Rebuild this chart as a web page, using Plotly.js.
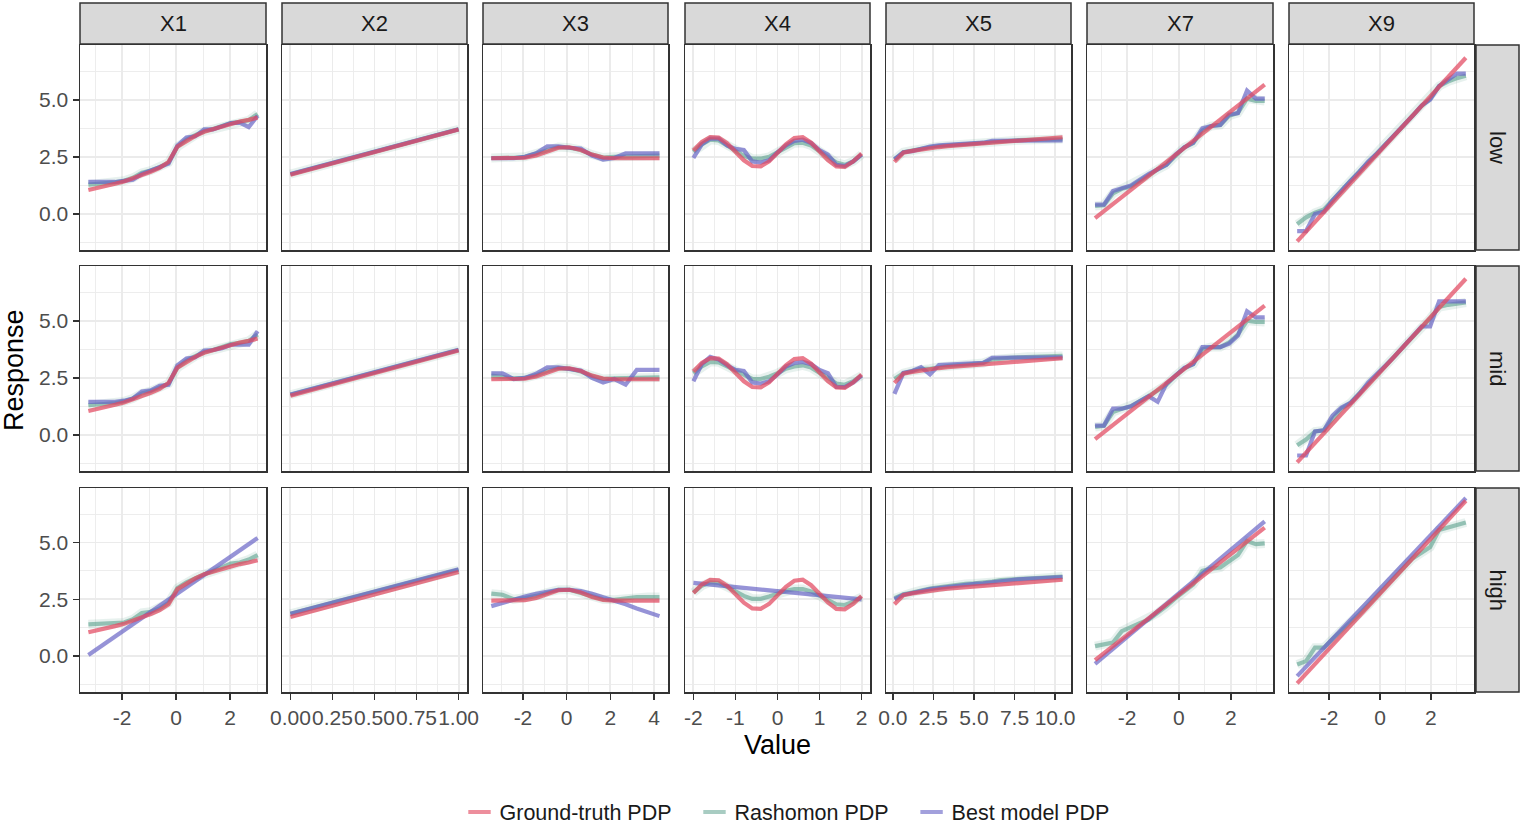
<!DOCTYPE html>
<html><head><meta charset="utf-8">
<script src="https://cdn.plot.ly/plotly-3.0.1.min.js"></script>
<style>html,body{margin:0;padding:0;background:#fff;overflow:hidden;width:100%;height:100%}#chart{position:fixed;left:0;top:0;width:100vw;height:100vh}</style>
</head><body><div id="chart"></div>
<script>
// ---------- categories ----------
const variables = ['X1','X2','X3','X4','X5','X7','X9'];
const levels = ['low','mid','high'];
const seriesNames = ['Ground-truth PDP','Rashomon PDP','Best model PDP'];

// ---------- tick labels ----------
const yTickVals = [0, 2.5, 5];
const yTickText = ['0.0','2.5','5.0'];
const xTickVals = [[-2,0,2],[0,0.25,0.5,0.75,1],[-2,0,2,4],[-2,-1,0,1,2],[0,2.5,5,7.5,10],[-2,0,2],[-2,0,2]];
const xTickText = [['-2','0','2'],['0.00','0.25','0.50','0.75','1.00'],['-2','0','2','4'],['-2','-1','0','1','2'],['0.0','2.5','5.0','7.5','10.0'],['-2','0','2'],['-2','0','2']];

// ---------- X1 ----------
const x1Grid = [-3.25,-2.92,-2.59,-2.26,-1.93,-1.6,-1.27,-0.94,-0.61,-0.28,0.05,0.38,0.71,1.04,1.37,1.7,2.03,2.36,2.69,3.02];
const x1Truth = [1.05,1.13,1.22,1.32,1.42,1.55,1.7,1.85,2.02,2.28,2.95,3.2,3.42,3.6,3.72,3.85,3.97,4.05,4.12,4.22];
const x1RashLow = [1.28,1.3,1.33,1.38,1.45,1.58,1.8,1.9,2.05,2.25,2.95,3.25,3.45,3.62,3.72,3.86,3.98,4.03,4.1,4.38];
const x1RashMid = [1.3,1.32,1.35,1.4,1.47,1.6,1.82,1.92,2.08,2.25,2.95,3.25,3.45,3.62,3.72,3.86,3.98,4.03,4.12,4.4];
const x1RashHigh = [1.4,1.42,1.4,1.42,1.48,1.62,1.9,1.95,2.1,2.35,3.0,3.25,3.45,3.6,3.75,3.9,4.07,4.12,4.25,4.45];
const x1BestLow = [1.4,1.4,1.4,1.4,1.45,1.5,1.75,1.9,2.05,2.2,3.0,3.35,3.4,3.7,3.7,3.85,3.98,4.0,3.8,4.3];
const x1BestMid = [1.45,1.45,1.45,1.45,1.5,1.6,1.9,1.95,2.15,2.2,3.05,3.35,3.4,3.7,3.72,3.8,3.95,3.95,3.95,4.55];
const x1BestHighGrid = [-3.25,3.02];
const x1BestHigh = [0.05,5.2];

// ---------- X2 ----------
const x2Grid = [0,1];
const x2Truth = [1.72,3.7];
const x2RashLow = [1.74,3.71];
const x2RashMid = [1.76,3.72];
const x2RashHigh = [1.86,3.8];
const x2BestLow = [1.75,3.71];
const x2BestMid = [1.77,3.73];
const x2BestHigh = [1.86,3.82];

// ---------- X3 ----------
const x3Grid = [-3.45,-2.94,-2.43,-1.91,-1.4,-0.89,-0.38,0.13,0.65,1.16,1.67,2.18,2.7,3.21,3.72,4.25];
const x3Truth = [2.44,2.44,2.44,2.46,2.56,2.74,2.9,2.92,2.8,2.6,2.47,2.44,2.44,2.44,2.44,2.44];
const x3RashLow = [2.45,2.45,2.46,2.5,2.64,2.82,2.93,2.9,2.8,2.6,2.47,2.5,2.52,2.54,2.55,2.55];
const x3RashMid = [2.6,2.55,2.48,2.5,2.62,2.8,2.93,2.9,2.78,2.58,2.45,2.48,2.5,2.52,2.52,2.52];
const x3RashHigh = [2.75,2.7,2.5,2.55,2.65,2.8,2.92,2.92,2.78,2.6,2.5,2.48,2.55,2.6,2.6,2.6];
const x3BestLow = [2.44,2.44,2.44,2.5,2.66,2.96,2.96,2.9,2.86,2.55,2.38,2.45,2.65,2.65,2.65,2.65];
const x3BestMid = [2.7,2.7,2.45,2.5,2.68,2.96,2.96,2.9,2.82,2.5,2.3,2.45,2.2,2.85,2.85,2.85];
const x3BestHigh = [2.2,2.35,2.5,2.62,2.74,2.85,2.92,2.92,2.86,2.74,2.6,2.45,2.28,2.1,1.92,1.76];

// ---------- X4 ----------
const x4Grid = [-2,-1.8,-1.6,-1.4,-1.2,-1,-0.8,-0.6,-0.4,-0.2,0,0.2,0.4,0.6,0.8,1,1.2,1.4,1.6,1.8,2];
const x4Truth = [2.78,3.15,3.36,3.34,3.1,2.72,2.35,2.1,2.08,2.3,2.66,3.05,3.32,3.36,3.12,2.74,2.36,2.08,2.06,2.3,2.65];
const x4RashLow = [2.72,3.05,3.25,3.22,3.0,2.8,2.55,2.42,2.42,2.5,2.7,2.95,3.1,3.12,3.0,2.75,2.5,2.25,2.15,2.3,2.6];
const x4RashMid = [2.7,3.0,3.2,3.18,3.0,2.8,2.6,2.45,2.45,2.55,2.7,2.9,3.0,3.05,2.95,2.75,2.5,2.25,2.2,2.35,2.6];
const x4RashHigh = [2.8,3.1,3.25,3.22,3.05,2.85,2.65,2.52,2.52,2.62,2.75,2.88,2.95,2.95,2.85,2.65,2.45,2.28,2.25,2.4,2.6];
const x4BestLow = [2.45,3.05,3.3,3.3,3.0,2.85,2.8,2.3,2.25,2.35,2.7,3.0,3.2,3.25,3.1,2.8,2.6,2.15,2.1,2.3,2.6];
const x4BestMid = [2.35,3.1,3.42,3.3,3.05,2.85,2.8,2.3,2.25,2.35,2.65,3.0,3.15,3.2,3.1,2.85,2.7,2.1,2.1,2.3,2.6];
const x4BestHighGrid = [-2,2];
const x4BestHigh = [3.22,2.5];

// ---------- X5 ----------
const x5Grid = [0.1,0.65,1.2,1.74,2.29,2.84,3.38,3.93,4.48,5.03,5.57,6.12,6.67,7.21,7.76,8.31,8.86,9.4,9.95,10.46];
const x5Truth = [2.28,2.68,2.76,2.83,2.88,2.93,2.97,3.0,3.04,3.07,3.1,3.13,3.16,3.19,3.22,3.25,3.28,3.31,3.33,3.36];
const x5RashLow = [2.38,2.7,2.78,2.86,2.92,2.97,3.0,3.04,3.07,3.1,3.14,3.18,3.2,3.22,3.23,3.24,3.25,3.26,3.27,3.28];
const x5RashMid = [2.45,2.7,2.8,2.9,2.9,2.98,3.02,3.05,3.08,3.1,3.15,3.3,3.35,3.38,3.4,3.42,3.43,3.44,3.45,3.46];
const x5RashHigh = [2.55,2.72,2.8,2.9,2.97,3.03,3.08,3.15,3.18,3.2,3.23,3.28,3.35,3.38,3.4,3.42,3.44,3.46,3.48,3.5];
const x5BestLow = [2.4,2.7,2.75,2.85,2.95,3.0,3.02,3.05,3.08,3.1,3.12,3.2,3.2,3.22,3.22,3.22,3.22,3.22,3.22,3.22];
const x5BestMid = [1.8,2.72,2.8,2.97,2.65,3.06,3.08,3.1,3.12,3.14,3.16,3.38,3.38,3.38,3.38,3.39,3.39,3.4,3.4,3.4];
const x5BestHigh = [2.5,2.7,2.78,2.88,2.95,3.0,3.05,3.12,3.15,3.18,3.2,3.25,3.3,3.35,3.38,3.4,3.42,3.44,3.46,3.48];

// ---------- X7 ----------
const x7Grid = [-3.23,-2.89,-2.54,-2.2,-1.85,-1.51,-1.17,-0.82,-0.48,-0.13,0.21,0.55,0.9,1.24,1.59,1.93,2.27,2.62,2.96,3.3];
const x7TruthGrid = [-3.23,3.3];
const x7Truth = [-0.18,5.66];
const x7RashLow = [0.35,0.38,0.9,1.1,1.2,1.45,1.7,1.95,2.15,2.55,2.92,3.1,3.65,3.85,3.9,4.3,4.42,5.05,4.95,4.95];
const x7RashMid = [0.35,0.4,1.0,1.15,1.25,1.45,1.7,1.95,2.2,2.6,2.92,3.1,3.75,3.85,3.85,4.05,4.4,5.0,4.95,4.95];
const x7RashHigh = [0.44,0.5,0.6,1.1,1.3,1.45,1.6,1.9,2.2,2.55,2.85,3.15,3.75,3.85,3.9,4.2,4.45,5.07,4.93,4.96];
const x7BestLow = [0.41,0.41,1.0,1.1,1.25,1.5,1.75,1.95,2.15,2.6,2.92,3.12,3.75,3.85,3.9,4.35,4.42,5.4,5.05,5.05];
const x7BestMid = [0.41,0.41,1.15,1.15,1.25,1.5,1.7,1.45,2.25,2.6,2.94,3.1,3.85,3.85,3.85,4.0,4.35,5.42,5.15,5.15];
const x7BestHighGrid = [-3.23,3.3];
const x7BestHigh = [-0.34,5.93];

// ---------- X9 ----------
const x9Grid = [-3.25,-2.9,-2.55,-2.2,-1.86,-1.51,-1.16,-0.81,-0.46,-0.12,0.23,0.58,0.93,1.28,1.63,1.97,2.32,2.67,3.02,3.37];
const x9TruthGrid = [-3.25,3.37];
const x9Truth = [-1.2,6.84];
const x9RashLow = [-0.45,-0.15,0.05,0.2,0.6,1.05,1.45,1.85,2.25,2.62,3.05,3.45,3.88,4.3,4.72,5.05,5.6,5.8,5.95,6.05];
const x9RashMid = [-0.45,-0.2,0.15,0.2,0.7,1.15,1.4,1.8,2.25,2.65,3.05,3.45,3.88,4.3,4.7,5.1,5.6,5.7,5.75,5.8];
const x9RashHigh = [-0.37,-0.22,0.37,0.37,0.75,1.1,1.45,1.85,2.25,2.65,3.1,3.5,3.9,4.3,4.55,4.8,5.55,5.65,5.78,5.88];
const x9BestLow = [-0.75,-0.75,0.0,0.1,0.6,1.05,1.45,1.85,2.3,2.65,3.05,3.5,3.9,4.3,4.75,5.0,5.6,5.9,6.15,6.15];
const x9BestMid = [-0.9,-0.9,0.15,0.2,0.85,1.2,1.4,1.8,2.3,2.65,3.05,3.45,3.9,4.35,4.75,4.75,5.85,5.85,5.85,5.85];
const x9BestHighGrid = [-3.25,3.37];
const x9BestHigh = [-0.88,6.96];

// ---------- assembled table ----------
const panelData = {
  X1:{truth:[x1Grid,x1Truth], rash:[[x1Grid,x1RashLow],[x1Grid,x1RashMid],[x1Grid,x1RashHigh]], best:[[x1Grid,x1BestLow],[x1Grid,x1BestMid],[x1BestHighGrid,x1BestHigh]]},
  X2:{truth:[x2Grid,x2Truth], rash:[[x2Grid,x2RashLow],[x2Grid,x2RashMid],[x2Grid,x2RashHigh]], best:[[x2Grid,x2BestLow],[x2Grid,x2BestMid],[x2Grid,x2BestHigh]]},
  X3:{truth:[x3Grid,x3Truth], rash:[[x3Grid,x3RashLow],[x3Grid,x3RashMid],[x3Grid,x3RashHigh]], best:[[x3Grid,x3BestLow],[x3Grid,x3BestMid],[x3Grid,x3BestHigh]]},
  X4:{truth:[x4Grid,x4Truth], rash:[[x4Grid,x4RashLow],[x4Grid,x4RashMid],[x4Grid,x4RashHigh]], best:[[x4Grid,x4BestLow],[x4Grid,x4BestMid],[x4BestHighGrid,x4BestHigh]]},
  X5:{truth:[x5Grid,x5Truth], rash:[[x5Grid,x5RashLow],[x5Grid,x5RashMid],[x5Grid,x5RashHigh]], best:[[x5Grid,x5BestLow],[x5Grid,x5BestMid],[x5Grid,x5BestHigh]]},
  X7:{truth:[x7TruthGrid,x7Truth], rash:[[x7Grid,x7RashLow],[x7Grid,x7RashMid],[x7Grid,x7RashHigh]], best:[[x7Grid,x7BestLow],[x7Grid,x7BestMid],[x7BestHighGrid,x7BestHigh]]},
  X9:{truth:[x9TruthGrid,x9Truth], rash:[[x9Grid,x9RashLow],[x9Grid,x9RashMid],[x9Grid,x9RashHigh]], best:[[x9Grid,x9BestLow],[x9Grid,x9BestMid],[x9BestHighGrid,x9BestHigh]]}
};

// ---------- layout geometry (reference pixel frame 1521 x 827) ----------
const RW = 1521, RH = 827;
const W = window.innerWidth || RW, H = window.innerHeight || RH;
const colPx = [[80,266],[282,467],[483,668],[685,870],[886,1071],[1087,1273],[1289,1474]];
const rowPx = [[45,250],[266,471],[488,692]];
const stripTop = [3,44];
const rightStrip = [1476,1519];
const xRanges = [[-3.56,3.33],[-0.05,1.05],[-3.83,4.64],[-2.2,2.2],[-0.42,10.98],[-3.54,3.62],[-3.57,3.69]];
const yRange = [-1.58, 7.4];
const FONT = 'Liberation Sans, Arial, Helvetica, sans-serif';
const colTruth = 'rgba(226,72,96,0.72)';
const colRash = 'rgba(96,163,143,0.62)';
const colRashBand = 'rgba(96,163,143,0.15)';
const colBest = 'rgba(100,96,196,0.68)';
const LW = 4.2;
const gridCol = '#EBEBEB';
const px = v => v/RW;
const py = v => 1 - v/RH;

function minorOf(vals){
  const step = vals[1]-vals[0];
  const out = [vals[0]-step/2];
  for (let i=0;i<vals.length;i++) out.push(vals[i]+step/2);
  return out;
}

const traces = [];
const layout = {
  width: W, height: H,
  margin: {l:0, r:0, t:0, b:0, autoexpand:false},
  paper_bgcolor: '#fff', plot_bgcolor: '#fff',
  font: {family: FONT, color: '#1A1A1A'},
  showlegend: true,
  legend: {orientation:'h', x: px(787), xanchor:'center', y: py(812), yanchor:'middle',
           font:{family:FONT, size:21.5, color:'#1A1A1A'}, bgcolor:'rgba(0,0,0,0)', tracegroupgap:0},
  shapes: [], annotations: []
};

for (let r=0; r<3; r++){
  for (let c=0; c<7; c++){
    const k = r*7 + c + 1;
    const xn = 'x' + (k===1?'':k), yn = 'y' + (k===1?'':k);
    const xa = 'xaxis' + (k===1?'':k), ya = 'yaxis' + (k===1?'':k);
    layout[xa] = {
      domain: [px(colPx[c][0]), px(colPx[c][1])], anchor: yn, range: xRanges[c],
      tickmode: 'array', tickvals: xTickVals[c], ticktext: xTickText[c], tickangle: 0,
      showticklabels: r===2, ticks: r===2 ? 'outside' : '', ticklen: 6, tickwidth: 1.6, tickcolor: '#333',
      tickfont: {family: FONT, size: 21, color: '#4D4D4D'},
      showgrid: true, gridcolor: gridCol, gridwidth: 1.9, zeroline: false,
      minor: {tickmode:'array', tickvals: minorOf(xTickVals[c]), showgrid: true, gridcolor: gridCol, gridwidth: 0.9, ticks: ''},
      showline: true, mirror: true, linecolor: '#333', linewidth: 1.5, fixedrange: true
    };
    layout[ya] = {
      domain: [py(rowPx[r][1]), py(rowPx[r][0])], anchor: xn, range: yRange,
      tickmode: 'array', tickvals: yTickVals, ticktext: yTickText,
      showticklabels: c===0, ticks: c===0 ? 'outside' : '', ticklen: 6, tickwidth: 1.6, tickcolor: '#333',
      tickfont: {family: FONT, size: 21, color: '#4D4D4D'},
      showgrid: true, gridcolor: gridCol, gridwidth: 1.9, zeroline: false,
      minor: {tickmode:'array', tickvals: [-1.25,1.25,3.75,6.25], showgrid: true, gridcolor: gridCol, gridwidth: 0.9, ticks: ''},
      showline: true, mirror: true, linecolor: '#333', linewidth: 1.5, fixedrange: true
    };
    const d = panelData[variables[c]];
    const rs = d.rash[r], bs = d.best[r];
    traces.push({x: rs[0], y: rs[1], xaxis: xn, yaxis: yn, mode:'lines', line:{color: colRashBand, width: 9}, showlegend:false, hoverinfo:'skip'});
    traces.push({x: rs[0], y: rs[1], xaxis: xn, yaxis: yn, mode:'lines', line:{color: colRash, width: LW}, showlegend:false, hoverinfo:'skip'});
    traces.push({x: bs[0], y: bs[1], xaxis: xn, yaxis: yn, mode:'lines', line:{color: colBest, width: LW}, showlegend:false, hoverinfo:'skip'});
    traces.push({x: d.truth[0], y: d.truth[1], xaxis: xn, yaxis: yn, mode:'lines', line:{color: colTruth, width: LW}, showlegend:false, hoverinfo:'skip'});
  }
}

// legend entries (names padded with no-break spaces to reproduce the item spacing)
const legCols = ['rgba(226,72,96,0.62)','rgba(96,163,143,0.55)','rgba(100,96,196,0.6)'];
const pad = ['\u00A0\u00A0\u00A0','\u00A0\u00A0\u00A0',''];
seriesNames.forEach((nm,i)=>{
  traces.push({x:[null], y:[null], xaxis:'x', yaxis:'y', mode:'markers', name:nm + pad[i], legendrank: i+1,
    marker:{symbol:'line-ew', size:18, color: legCols[i], line:{color: legCols[i], width:4}}, hoverinfo:'skip'});
});

// strips
variables.forEach((v,c)=>{
  layout.shapes.push({type:'rect', xref:'paper', yref:'paper', x0: px(colPx[c][0]), x1: px(colPx[c][1]),
    y0: py(stripTop[1]), y1: py(stripTop[0]), fillcolor:'#D9D9D9', line:{color:'#333', width:1.5}, layer:'below'});
  layout.annotations.push({xref:'paper', yref:'paper', x: px((colPx[c][0]+colPx[c][1])/2), y: py((stripTop[0]+stripTop[1])/2),
    text: v, showarrow:false, xanchor:'center', yanchor:'middle', font:{family:FONT, size:22, color:'#1A1A1A'}});
});
levels.forEach((lv,r)=>{
  layout.shapes.push({type:'rect', xref:'paper', yref:'paper', x0: px(rightStrip[0]), x1: px(rightStrip[1]),
    y0: py(rowPx[r][1]), y1: py(rowPx[r][0]), fillcolor:'#D9D9D9', line:{color:'#333', width:1.5}, layer:'below'});
  layout.annotations.push({xref:'paper', yref:'paper', x: px((rightStrip[0]+rightStrip[1])/2), y: py((rowPx[r][0]+rowPx[r][1])/2),
    text: lv, textangle: 90, showarrow:false, xanchor:'center', yanchor:'middle', font:{family:FONT, size:22, color:'#1A1A1A'}});
});
// axis titles
layout.annotations.push({xref:'paper', yref:'paper', x: px(777), y: py(745), text:'Value', showarrow:false,
  xanchor:'center', yanchor:'middle', font:{family:FONT, size:27, color:'#000'}});
layout.annotations.push({xref:'paper', yref:'paper', x: px(14), y: py(370), text:'Response', textangle:-90, showarrow:false,
  xanchor:'center', yanchor:'middle', font:{family:FONT, size:27, color:'#000'}});

Plotly.newPlot('chart', traces, layout, {displayModeBar:false, staticPlot:true});
</script>
</body></html>
